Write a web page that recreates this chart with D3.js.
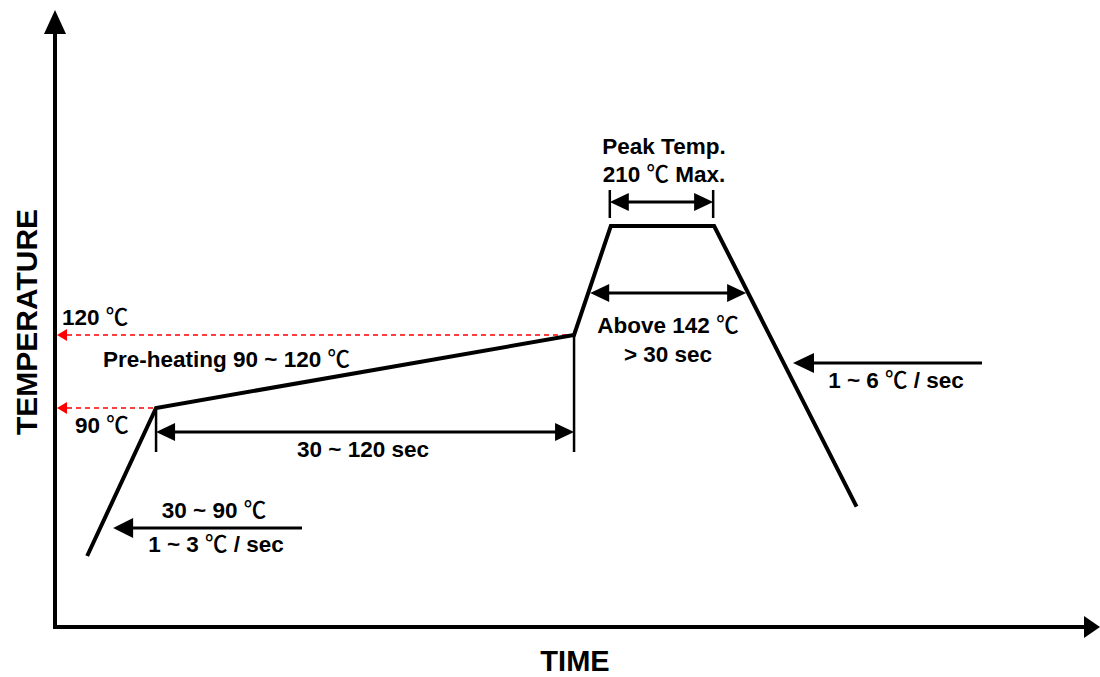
<!DOCTYPE html>
<html><head><meta charset="utf-8">
<script src="https://cdn.jsdelivr.net/npm/d3@7"></script>
<style>
body{margin:0;background:#fff}
text{font-family:"Liberation Sans",Arial,"Noto Sans CJK KR",sans-serif;font-weight:bold;fill:#000}
tspan.deg{font-family:"Noto Sans CJK KR","Noto Sans CJK SC",sans-serif;font-weight:500}
</style>
</head><body>
<svg id="c" width="1100" height="677"></svg>
<script>
// ---- data (schematic reflow profile) ----
const stageTimes = [14, 44, 226, 242, 287, 349];   // schematic time units
const stageTemps = [30, 90, 120, 210, 210, 50];    // °C
const markTemps = [90, 120];
const markLabels = ["90 ℃", "120 ℃"];
const axisLabels = ["TIME", "TEMPERATURE"];
const preheatLabel = "Pre-heating 90 ~ 120 ℃";
const preheatTimeLabel = "30 ~ 120 sec";
const rampUpLabels = ["30 ~ 90 ℃", "1 ~ 3 ℃ / sec"];
const peakLabels = ["Peak Temp.", "210 ℃ Max."];
const aboveLabels = ["Above 142 ℃", "> 30 sec"];
const coolLabel = "1 ~ 6 ℃ / sec";

const svg = d3.select("#c");
const x = d3.scaleLinear().domain([0, 455]).range([55, 1100]);
// schematic (non-proportional) temperature axis
const y = d3.scaleLinear().domain([0, 30, 90, 120, 210, 290]).range([627, 556, 408, 335, 226, 10]);

const pts = stageTimes.map((t, i) => [x(t), y(stageTemps[i])]);

function head(g, tx, ty, dir, len, hw, color) {
  let p;
  if (dir === 'l') p = [[tx, ty], [tx + len, ty - hw], [tx + len, ty + hw]];
  if (dir === 'r') p = [[tx, ty], [tx - len, ty - hw], [tx - len, ty + hw]];
  if (dir === 'u') p = [[tx, ty], [tx - hw, ty + len], [tx + hw, ty + len]];
  g.append("path").attr("d", d3.line()(p) + "Z").attr("fill", color || "#000");
}
function hline(x1, x2, yy, w, color, dash) {
  const l = svg.append("line").attr("x1", x1).attr("x2", x2).attr("y1", yy).attr("y2", yy)
    .attr("stroke", color || "#000").attr("stroke-width", w);
  if (dash) l.attr("stroke-dasharray", dash);
  return l;
}
function vline(xx, y1, y2, w) {
  svg.append("line").attr("x1", xx).attr("x2", xx).attr("y1", y1).attr("y2", y2)
    .attr("stroke", "#000").attr("stroke-width", w);
}
function dbl(x1, x2, yy) {
  hline(x1 + 10, x2 - 10, yy, 3);
  head(svg, x1, yy, 'l', 19, 9);
  head(svg, x2, yy, 'r', 19, 9);
}
function txt(s, tx, ty, anchor, size) {
  const t = svg.append("text").attr("x", tx).attr("y", ty).attr("text-anchor", anchor || "start")
    .attr("font-size", size || 22.5);
  s.split(/(℃)/).filter(p => p.length).forEach(p => {
    const sp = t.append("tspan").text(p);
    if (p === "℃") sp.attr("class", "deg");
  });
  return t;
}

// ---- axes ----
const x0 = x(0), yb = y(0);
svg.append("line").attr("x1", x0).attr("x2", x0).attr("y1", yb + 2).attr("y2", y(290) + 20)
  .attr("stroke", "#000").attr("stroke-width", 4);
head(svg, x0, y(290), 'u', 24, 11);
svg.append("line").attr("x1", x0 - 2).attr("x2", x(455) - 14).attr("y1", yb).attr("y2", yb)
  .attr("stroke", "#000").attr("stroke-width", 4);
head(svg, x(455), yb, 'r', 16, 11);

txt(axisLabels[0], 575, 671, "middle", 29);
svg.append("text").attr("transform", `translate(37,${y(120) - 13}) rotate(-90)`)
  .attr("text-anchor", "middle").attr("font-size", 30).text(axisLabels[1]);

// ---- red dashed reference arrows ----
markTemps.forEach((t) => {
  const idx = stageTemps.indexOf(t);
  const yy = y(t);
  hline(x0 + 12, pts[idx][0], yy, 1.5, "#ff0000", "5,4");
  head(svg, x0 + 2, yy, 'l', 10, 6, "#ff0000");
});
txt(markLabels[1], 62, y(120) - 10);
txt(markLabels[0], 75, y(90) + 25);

// ---- profile ----
svg.append("path").attr("d", d3.line()(pts)).attr("fill", "none")
  .attr("stroke", "#000").attr("stroke-width", 4).attr("stroke-linejoin", "miter");

// pre-heating label
txt(preheatLabel, 103, 367);

// preheat duration
const dimY = y(90) + 24;
vline(pts[1][0], pts[1][1], dimY + 20, 2.5);
vline(pts[2][0], pts[2][1], dimY + 20, 2.5);
dbl(pts[1][0], pts[2][0], dimY);
txt(preheatTimeLabel, (pts[1][0] + pts[2][0]) / 2 - 2, dimY + 25, "middle");

// ramp-up arrow (lower left)
const rY = 528;
hline(x(14) + 40, 302, rY, 3);
head(svg, x(14) + 26, rY, 'l', 20, 10);
txt(rampUpLabels[0], 214, rY - 10, "middle");
txt(rampUpLabels[1], 216, rY + 24, "middle");

// peak duration
const pY = pts[3][1] - 24;
vline(pts[3][0] - 1, pts[3][1] - 36, pts[3][1] - 8, 2.5);
vline(pts[4][0] - 1, pts[4][1] - 36, pts[4][1] - 8, 2.5);
dbl(pts[3][0] - 1, pts[4][0] - 1, pY);
txt(peakLabels[0], 664, pY - 48, "middle");
txt(peakLabels[1], 664, pY - 20, "middle");

// above 142 (intersection with slopes)
const aY = 293;
function crossX(a, b, yy) { return a[0] + (b[0] - a[0]) * (yy - a[1]) / (b[1] - a[1]); }
const ax1 = crossX(pts[2], pts[3], aY) + 2, ax2 = crossX(pts[4], pts[5], aY) - 2;
dbl(ax1, ax2, aY);
txt(aboveLabels[0], 668, aY + 40, "middle");
txt(aboveLabels[1], 668, aY + 69, "middle");

// cooling arrow
const cY = 363;
hline(808, 982, cY, 3);
head(svg, 793, cY, 'l', 21, 10);
txt(coolLabel, 896, cY + 25, "middle");
</script>
</body></html>
